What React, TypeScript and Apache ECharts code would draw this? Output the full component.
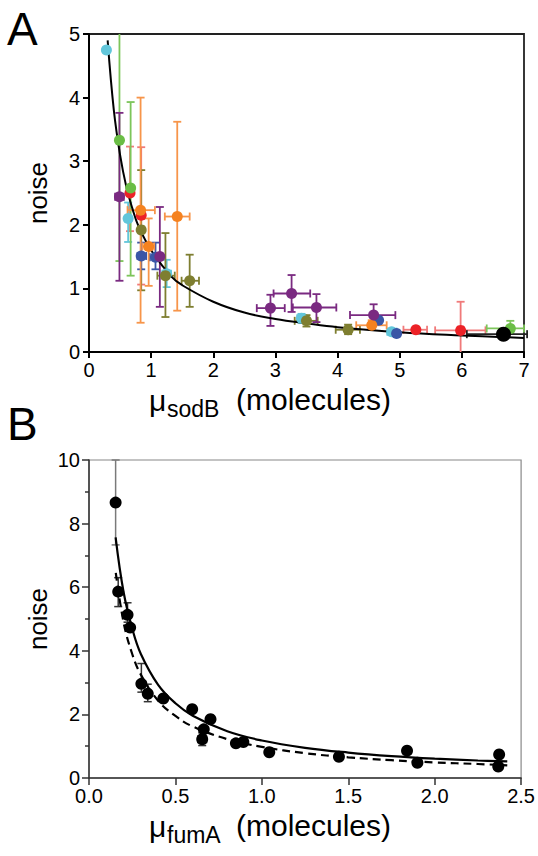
import React, { useEffect, useRef } from "react";
import * as echarts from "echarts";

// point tuple: [x, y, yLo, yHi, xLo, xHi]
type Pt = [number, number, number | null, number | null, number | null, number | null];

const A_X_TICKS = [0, 1, 2, 3, 4, 5, 6, 7];
const A_Y_TICKS = [0, 1, 2, 3, 4, 5];
const B_X_TICKS = [0, 0.5, 1, 1.5, 2, 2.5];
const B_Y_TICKS = [0, 2, 4, 6, 8, 10];

const A_CYAN: Pt[] = [
  [0.28, 4.75, null, null, null, null],
  [0.63, 2.1, 1.73, 2.35, null, null],
  [1.25, 1.23, 1.02, 1.45, 1.18, 1.32],
  [3.42, 0.53, 0.46, 0.6, 3.35, 3.5],
  [4.87, 0.32, 0.28, 0.36, 4.8, 4.95],
];
const A_GREEN: Pt[] = [
  [0.49, 3.33, 1.43, 5.4, null, null],
  [0.67, 2.58, 1.2, 3.93, null, null],
  [6.78, 0.37, 0.3, 0.49, 6.4, 7.0],
];
const A_ORANGE: Pt[] = [
  [0.83, 2.23, 0.46, 4.0, 0.62, 1.06],
  [1.42, 2.13, 0.65, 3.62, 1.22, 1.62],
  [0.96, 1.66, 1.04, 2.1, 0.86, 1.05],
  [4.55, 0.42, 0.35, 0.5, 4.3, 4.79],
];
const A_RED: Pt[] = [
  [0.66, 2.5, 1.9, 3.23, null, null],
  [0.84, 2.15, 1.06, 3.22, null, null],
  [5.26, 0.35, null, null, 5.06, 5.44],
  [5.98, 0.34, -0.3, 0.79, 5.57, 6.38],
];
const A_PURPLE: Pt[] = [
  [0.49, 2.44, 1.12, 3.76, 0.42, 0.56],
  [1.14, 1.5, 0.71, 2.28, null, null],
  [2.92, 0.69, 0.41, 0.9, 2.7, 3.15],
  [3.26, 0.92, 0.63, 1.21, 2.97, 3.56],
  [3.66, 0.7, 0.47, 0.91, 3.28, 3.98],
  [4.58, 0.58, 0.45, 0.75, 4.2, 4.93],
];
const A_BLUE: Pt[] = [
  [0.84, 1.51, 1.3, 1.72, 0.78, 0.92],
  [1.07, 1.49, 1.3, 1.72, 0.98, 1.15],
  [4.66, 0.5, null, null, null, null],
  [4.95, 0.29, null, null, null, null],
];
const A_OLIVE: Pt[] = [
  [0.84, 1.92, 0.97, 2.86, null, null],
  [1.23, 1.2, 0.55, 1.87, 1.1, 1.38],
  [1.62, 1.12, 0.71, 1.53, 1.49, 1.77],
  [3.5, 0.49, 0.4, 0.58, 3.31, 3.68],
  [4.17, 0.35, 0.28, 0.43, 3.97, 4.36],
];
const A_BLACK: Pt[] = [[6.67, 0.28, null, null, 6.08, 7.05]];

const A_FIT_X = [0.3, 0.4, 0.5, 0.6, 0.7, 0.8, 1.0, 1.33, 1.5, 2.0, 2.5, 3.0, 3.5, 4.0, 5.0, 6.0, 7.0];
const A_FIT_Y = [4.9, 3.8, 3.1, 2.6, 2.25, 1.97, 1.6, 1.18, 1.05, 0.79, 0.62, 0.52, 0.45, 0.39, 0.31, 0.26, 0.22];

const B_POINTS: Pt[] = [
  [0.154, 8.66, 7.33, 10, null, null],
  [0.169, 5.86, 5.39, 6.3, null, null],
  [0.223, 5.13, 4.9, 5.51, null, null],
  [0.238, 4.73, null, null, null, null],
  [0.303, 2.96, 2.7, 3.6, null, null],
  [0.34, 2.65, 2.4, 2.95, null, null],
  [0.43, 2.5, null, null, null, null],
  [0.597, 2.16, null, null, null, null],
  [0.664, 1.53, null, null, null, null],
  [0.655, 1.22, 1.02, 1.42, 0.63, 0.68],
  [0.703, 1.85, null, null, null, null],
  [0.85, 1.09, null, null, null, null],
  [0.893, 1.13, null, null, null, null],
  [1.043, 0.81, null, null, null, null],
  [1.446, 0.67, null, null, null, null],
  [1.84, 0.86, null, null, null, null],
  [1.9, 0.48, null, null, null, null],
  [2.373, 0.74, null, null, null, null],
  [2.368, 0.36, null, null, null, null],
];

const B_SOLID_X = [0.154, 0.2, 0.25, 0.3, 0.4, 0.5, 0.6, 0.8, 1.0, 1.25, 1.5, 1.75, 2.0, 2.25, 2.42];
const B_SOLID_Y = [7.57, 5.85, 4.7, 3.9, 2.93, 2.35, 1.96, 1.47, 1.18, 0.95, 0.8, 0.69, 0.61, 0.55, 0.52];
const B_DASH_X = [0.155, 0.2, 0.25, 0.3, 0.4, 0.5, 0.6, 0.8, 1.0, 1.25, 1.5, 1.75, 2.0, 2.25, 2.42];
const B_DASH_Y = [6.45, 4.9, 3.9, 3.25, 2.43, 1.95, 1.62, 1.22, 0.98, 0.78, 0.65, 0.56, 0.49, 0.44, 0.4];

const FONT = "Liberation Sans, Arial, Helvetica, sans-serif";

const A_GROUPS = [
  { name: "red", color: "#EC2227", err: "#F07a7a", data: A_RED },
  { name: "cyan", color: "#62C6DA", err: "#62C6DA", data: A_CYAN },
  { name: "green", color: "#6ABD45", err: "#7DC55A", data: A_GREEN },
  { name: "olive", color: "#7E7E30", err: "#7E7E30", data: A_OLIVE },
  { name: "blue", color: "#3A56A6", err: "#3A56A6", data: A_BLUE },
  { name: "orange", color: "#F58220", err: "#F7954A", data: A_ORANGE },
  { name: "purple", color: "#7A2A81", err: "#7A2A81", data: A_PURPLE },
  { name: "black", color: "#000000", err: "#222222", data: A_BLACK },
];

function errorSeries(data: Pt[], color: string, idx: number, lw: number, cap: number, yMin: number, yMax: number, z: number) {
  return {
    type: "custom",
    xAxisIndex: idx,
    yAxisIndex: idx,
    coordinateSystem: "cartesian2d",
    silent: true,
    z,
    data: data.map((d) => [d[0], d[1]]),
    renderItem: (params: any, api: any) => {
      const d = data[params.dataIndex];
      const x = d[0], y = d[1], yLo = d[2], yHi = d[3], xLo = d[4], xHi = d[5];
      const children: any[] = [];
      const st = { stroke: color, lineWidth: lw };
      if (yLo != null && yHi != null) {
        const lo = Math.max(yLo, yMin), hi = Math.min(yHi, yMax);
        const p1 = api.coord([x, lo]);
        const p2 = api.coord([x, hi]);
        children.push({ type: "line", shape: { x1: p1[0], y1: p1[1], x2: p2[0], y2: p2[1] }, style: st });
        if (yLo >= yMin) children.push({ type: "line", shape: { x1: p1[0] - cap, y1: p1[1], x2: p1[0] + cap, y2: p1[1] }, style: st });
        if (yHi <= yMax) children.push({ type: "line", shape: { x1: p2[0] - cap, y1: p2[1], x2: p2[0] + cap, y2: p2[1] }, style: st });
      }
      if (xLo != null && xHi != null) {
        const p1 = api.coord([xLo, y]);
        const p2 = api.coord([xHi, y]);
        children.push({ type: "line", shape: { x1: p1[0], y1: p1[1], x2: p2[0], y2: p2[1] }, style: st });
        children.push({ type: "line", shape: { x1: p1[0], y1: p1[1] - cap, x2: p1[0], y2: p1[1] + cap }, style: st });
        children.push({ type: "line", shape: { x1: p2[0], y1: p2[1] - cap, x2: p2[0], y2: p2[1] + cap }, style: st });
      }
      return { type: "group", children };
    },
  };
}

function zip(xs: number[], ys: number[]) {
  return xs.map((x, i) => [x, ys[i]]);
}

export default function App() {
  const ref = useRef<HTMLDivElement>(null);
  useEffect(() => {
    if (!ref.current) return;
    const chart = echarts.init(ref.current, undefined, { renderer: "svg" });
    const axisLabel = { color: "#000", fontSize: 20, fontFamily: FONT, margin: 8 };
    const series: any[] = [];
    A_GROUPS.forEach((g) => {
      series.push(errorSeries(g.data, g.err, 0, 1.8, 4, 0, 5, 3));
    });
    series.push({
      type: "line", xAxisIndex: 0, yAxisIndex: 0, data: zip(A_FIT_X, A_FIT_Y), smooth: 0.4,
      showSymbol: false, lineStyle: { color: "#000", width: 2 }, z: 4, silent: true,
    });
    A_GROUPS.forEach((g) => {
      series.push({
        type: "scatter", xAxisIndex: 0, yAxisIndex: 0, symbol: "circle",
        symbolSize: g.name === "black" ? 15 : 11,
        itemStyle: { color: g.color, opacity: 1 }, z: 5, silent: true,
        data: g.data.map((d) => [d[0], d[1]]),
      });
    });
    series.push(errorSeries(B_POINTS.slice(0, 1), "#7a7a7a", 1, 1.5, 4, 0, 10, 3));
    series.push(errorSeries(B_POINTS.slice(1), "#333333", 1, 1.5, 4, 0, 10, 3));
    series.push({
      type: "line", xAxisIndex: 1, yAxisIndex: 1, data: zip(B_SOLID_X, B_SOLID_Y), smooth: 0.4,
      showSymbol: false, lineStyle: { color: "#000", width: 2.2 }, z: 4, silent: true,
    });
    series.push({
      type: "line", xAxisIndex: 1, yAxisIndex: 1, data: zip(B_DASH_X, B_DASH_Y), smooth: 0.4,
      showSymbol: false, lineStyle: { color: "#000", width: 2.2, type: [8, 5] }, z: 4, silent: true,
    });
    series.push({
      type: "scatter", xAxisIndex: 1, yAxisIndex: 1, symbol: "circle", symbolSize: 12,
      itemStyle: { color: "#000", opacity: 1 }, z: 5, silent: true,
      data: B_POINTS.map((d) => [d[0], d[1]]),
    });

    const txt = (text: string, x: number, y: number, size: number, align = "left", extra: any = {}) => ({
      type: "text", x, y, silent: true, ...extra,
      style: { text, fontSize: size, fontFamily: FONT, fill: "#000", align, verticalAlign: "middle", textAlign: align, textVerticalAlign: "middle" },
    });

    chart.setOption({
      animation: false,
      backgroundColor: "#fff",
      grid: [
        { left: 89, top: 34, width: 435, height: 318, show: true, borderColor: "#222", borderWidth: 1.8, backgroundColor: "transparent" },
        { left: 89, top: 460, width: 434, height: 318, show: true, borderColor: "#888", borderWidth: 1.2, backgroundColor: "transparent" },
      ],
      xAxis: [
        {
          gridIndex: 0, type: "value", min: A_X_TICKS[0], max: A_X_TICKS[A_X_TICKS.length - 1], interval: A_X_TICKS[1] - A_X_TICKS[0],
          axisLine: { lineStyle: { color: "#000", width: 2 } }, axisTick: { length: 6, lineStyle: { color: "#000", width: 2 } },
          splitLine: { show: false }, axisLabel,
        },
        {
          gridIndex: 1, type: "value", min: B_X_TICKS[0], max: B_X_TICKS[B_X_TICKS.length - 1], interval: B_X_TICKS[1] - B_X_TICKS[0],
          axisLine: { lineStyle: { color: "#333", width: 1.5 } }, axisTick: { length: 7, lineStyle: { color: "#333", width: 1.5 } },
          splitLine: { show: false }, axisLabel: { ...axisLabel, formatter: (v: number) => v.toFixed(1) },
        },
      ],
      yAxis: [
        {
          gridIndex: 0, type: "value", min: A_Y_TICKS[0], max: A_Y_TICKS[A_Y_TICKS.length - 1], interval: A_Y_TICKS[1] - A_Y_TICKS[0],
          axisLine: { lineStyle: { color: "#000", width: 2 } }, axisTick: { length: 6, lineStyle: { color: "#000", width: 2 } },
          splitLine: { show: false }, axisLabel: { ...axisLabel, margin: 9 },
        },
        {
          gridIndex: 1, type: "value", min: B_Y_TICKS[0], max: B_Y_TICKS[B_Y_TICKS.length - 1], interval: B_Y_TICKS[1] - B_Y_TICKS[0],
          axisLine: { lineStyle: { color: "#333", width: 1.5 } }, axisTick: { length: 7, lineStyle: { color: "#333", width: 1.5 } },
          minorTick: { show: true, splitNumber: 2, length: 4, lineStyle: { color: "#333", width: 1.5 } },
          splitLine: { show: false }, minorSplitLine: { show: false }, axisLabel: { ...axisLabel, margin: 9 },
        },
      ],
      graphic: [
        txt("A", 7, 29, 46),
        txt("B", 7, 424, 46),
        txt("noise", 38, 193, 26, "center", { rotation: Math.PI / 2 }),
        txt("noise", 38, 619, 26, "center", { rotation: Math.PI / 2 }),
        txt("μ", 149, 400, 30),
        txt("sodB", 167, 409, 23),
        txt("(molecules)", 236, 399, 30),
        txt("μ", 149, 826, 30),
        txt("fumA", 167, 835, 23),
        txt("(molecules)", 236, 825, 30),
      ],
      series,
    });
    return () => chart.dispose();
  }, []);
  return <div ref={ref} style={{ position: "fixed", left: 0, top: 0, width: 538, height: 856, background: "#fff" }} />;
}
